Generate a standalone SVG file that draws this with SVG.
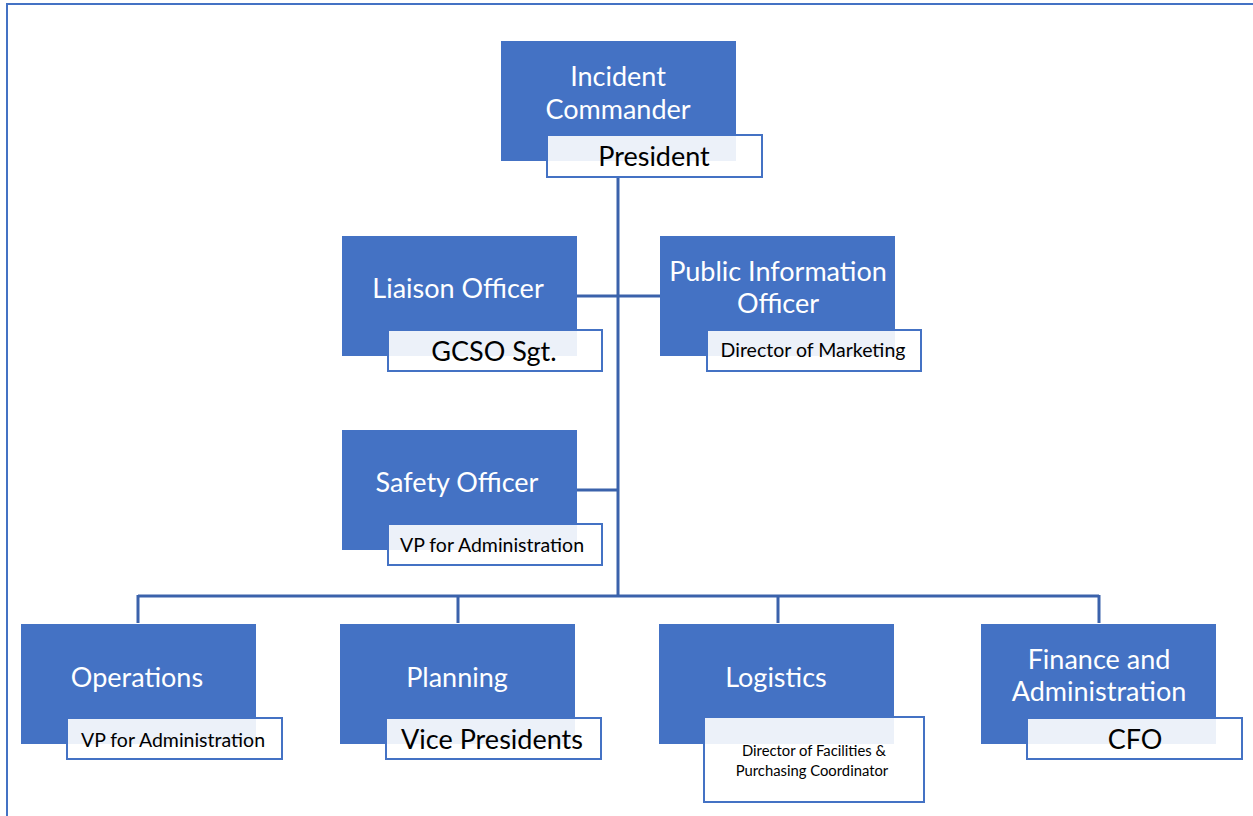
<svg xmlns="http://www.w3.org/2000/svg" width="1253" height="816" viewBox="0 0 1253 816">
<style>
.box{fill:#4472c4;stroke:none}
.lbl{fill:#ffffff;fill-opacity:0.9;stroke:#4472c4;stroke-width:2}
.t{font-family:Lato,"Open Sans","Liberation Sans",sans-serif;fill:#ffffff;font-size:27px;text-anchor:middle}
.l{font-family:Lato,"Open Sans","Liberation Sans",sans-serif;fill:#000000;text-anchor:middle}
.c{fill:none;stroke:#3b62ab;stroke-width:3}
</style>
<rect width="1253" height="816" fill="#ffffff"/>
<rect x="7" y="4" width="1260" height="830" fill="none" stroke="#4472c4" stroke-width="2"/>
<g id="connectors">
<path class="c" d="M618 177V596"/>
<path class="c" d="M577 296H660"/>
<path class="c" d="M577 490H618"/>
<path class="c" d="M138 596H1099M138 595V623M458 595V623M778 595V623M1099 595V623"/>
</g>
<g id="incident-commander">
<rect class="box" x="501" y="41" width="235" height="120"/>
<rect class="lbl" x="547" y="135" width="215" height="42"/>
<text class="t" x="618" y="86">Incident</text>
<text class="t" x="618" y="119">Commander</text>
<text class="l" x="654" y="166" font-size="27">President</text>
</g>
<g id="liaison-officer">
<rect class="box" x="342" y="236" width="235" height="120"/>
<rect class="lbl" x="388" y="330" width="214" height="41"/>
<text class="t" x="458" y="298">Liaison Officer</text>
<text class="l" x="494" y="361" font-size="27">GCSO Sgt.</text>
</g>
<g id="public-information-officer">
<rect class="box" x="660" y="236" width="235" height="120"/>
<rect class="lbl" x="707" y="330" width="214" height="41"/>
<text class="t" x="778" y="281">Public Information</text>
<text class="t" x="778" y="313">Officer</text>
<text class="l" x="813" y="357" font-size="19.5">Director of Marketing</text>
</g>
<g id="safety-officer">
<rect class="box" x="342" y="430" width="235" height="120"/>
<rect class="lbl" x="388" y="524" width="214" height="41"/>
<text class="t" x="457" y="492">Safety Officer</text>
<text class="l" x="492" y="552" font-size="19.5">VP for Administration</text>
</g>
<g id="operations">
<rect class="box" x="21" y="624" width="235" height="120"/>
<rect class="lbl" x="67" y="718" width="215" height="41"/>
<text class="t" x="137" y="687">Operations</text>
<text class="l" x="173" y="747" font-size="19.5">VP for Administration</text>
</g>
<g id="planning">
<rect class="box" x="340" y="624" width="235" height="120"/>
<rect class="lbl" x="386" y="718" width="215" height="41"/>
<text class="t" x="457" y="687">Planning</text>
<text class="l" x="492" y="749" font-size="27">Vice Presidents</text>
</g>
<g id="logistics">
<rect class="box" x="659" y="624" width="235" height="120"/>
<rect class="lbl" x="704" y="717" width="220" height="85"/>
<text class="t" x="776" y="687">Logistics</text>
<text class="l" x="814" y="756" font-size="14.8">Director of Facilities &amp;</text>
<text class="l" x="812" y="776" font-size="14.8">Purchasing Coordinator</text>
</g>
<g id="finance-and-administration">
<rect class="box" x="981" y="624" width="235" height="120"/>
<rect class="lbl" x="1027" y="718" width="215" height="41"/>
<text class="t" x="1099" y="669">Finance and</text>
<text class="t" x="1099" y="701">Administration</text>
<text class="l" x="1135" y="749" font-size="27">CFO</text>
</g>
</svg>
